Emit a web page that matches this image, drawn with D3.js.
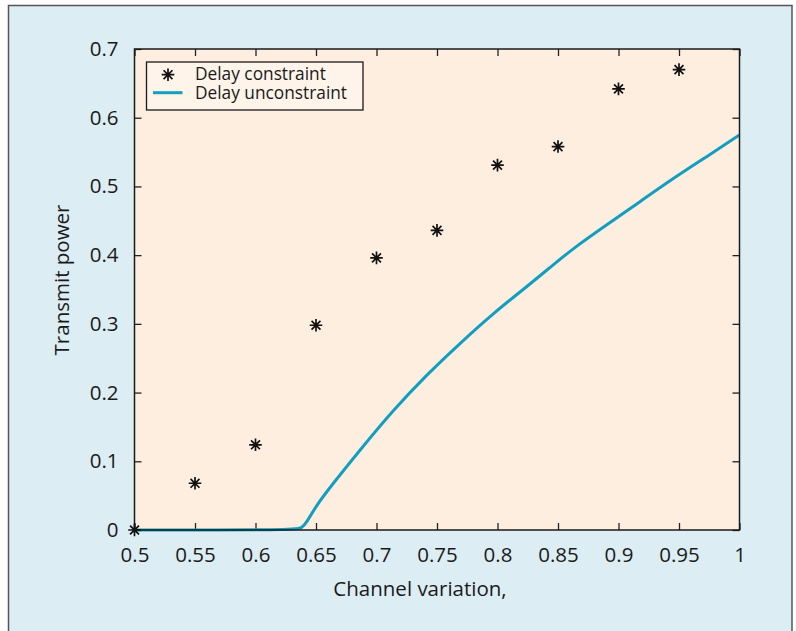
<!DOCTYPE html>
<html>
<head>
<meta charset="utf-8">
<script src="https://cdn.jsdelivr.net/npm/d3@7"></script>
<style>
  html, body { margin: 0; padding: 0; background: #fff; }
  svg { display: block; font-family: "Open Sans", "Noto Sans", sans-serif; }
</style>
</head>
<body>
<div id="chart"></div>
<script>
// measured points (delay constraint)
const starX = [0.5, 0.55, 0.6, 0.65, 0.7, 0.75, 0.8, 0.85, 0.9, 0.95];
const starY = [0, 0.068, 0.124, 0.298, 0.396, 0.436, 0.531, 0.558, 0.642, 0.670];

// curve (delay unconstraint)
const curveX = [0.5, 0.634, 0.638, 0.642, 0.65, 0.662, 0.6863, 0.7139, 0.7415, 0.769, 0.7965, 0.8241, 0.8434, 0.8626, 0.890, 0.9178, 0.9453, 0.9729, 1.0];
const curveY = [0, 0, 0.003, 0.010, 0.035, 0.063, 0.1164, 0.1746, 0.226, 0.2717, 0.3154, 0.354, 0.382, 0.410, 0.4439, 0.4778, 0.5118, 0.5433, 0.5749];

const xTicks = [0.5, 0.55, 0.6, 0.65, 0.7, 0.75, 0.8, 0.85, 0.9, 0.95, 1];
const yTicks = [0, 0.1, 0.2, 0.3, 0.4, 0.5, 0.6, 0.7];
const seriesNames = ["Delay constraint", "Delay unconstraint"];

const W = 796, H = 631;
const plot = {left: 134.5, right: 739.5, top: 49, bottom: 530};

const svg = d3.select("#chart").append("svg")
  .attr("width", W).attr("height", H);

// outer panel
svg.append("rect")
  .attr("x", 8.5).attr("y", 5.5)
  .attr("width", 783.5).attr("height", H + 10)
  .attr("fill", "#ddedf4")
  .attr("stroke", "#555")
  .attr("stroke-width", 1.5);

const x = d3.scaleLinear().domain([0.5, 1]).range([plot.left, plot.right]);
const y = d3.scaleLinear().domain([0, 0.7]).range([plot.bottom, plot.top]);

// plot background
svg.append("rect")
  .attr("x", plot.left).attr("y", plot.top)
  .attr("width", plot.right - plot.left).attr("height", plot.bottom - plot.top)
  .attr("fill", "#fdeee0");

const fmt = d => String(d);

// axes, ticks pointing inward
const tickLen = 7;
const xAxisB = d3.axisBottom(x).tickValues(xTicks).tickSize(-tickLen).tickPadding(17).tickFormat(fmt);
const xAxisT = d3.axisTop(x).tickValues(xTicks).tickSize(-tickLen).tickFormat("");
const yAxisL = d3.axisLeft(y).tickValues(yTicks).tickSize(-tickLen).tickPadding(16).tickFormat(fmt);
const yAxisR = d3.axisRight(y).tickValues(yTicks).tickSize(-tickLen).tickFormat("");

function style(g) {
  g.attr("font-family", null).attr("font-size", null);
  g.select(".domain").remove();
  g.selectAll(".tick line").attr("stroke", "#222").attr("stroke-width", 1.3);
  g.selectAll(".tick text").attr("fill", "#1a1a1a").style("font-size", "20.5px");
}

svg.append("g").attr("transform", `translate(0,${plot.bottom})`).call(xAxisB).call(style);
svg.append("g").attr("transform", `translate(0,${plot.top})`).call(xAxisT).call(style);
svg.append("g").attr("transform", `translate(${plot.left},0)`).call(yAxisL).call(style);
svg.append("g").attr("transform", `translate(${plot.right},0)`).call(yAxisR).call(style);

// curve
const line = d3.line().x(d => x(d[0])).y(d => y(d[1])).curve(d3.curveBasis);
svg.append("path")
  .datum(curveX.map((v, i) => [v, curveY[i]]))
  .attr("fill", "none")
  .attr("stroke", "#139ec0")
  .attr("stroke-width", 3)
  .attr("d", line);

// plot frame
svg.append("rect")
  .attr("x", plot.left).attr("y", plot.top)
  .attr("width", plot.right - plot.left).attr("height", plot.bottom - plot.top)
  .attr("fill", "none")
  .attr("stroke", "#1a1a1a")
  .attr("stroke-width", 1.5);

// star marker
const r = 6.3, rd = r * Math.SQRT1_2;
const starPath = `M${-r},0L${r},0M0,${-r}L0,${r}M${-rd},${-rd}L${rd},${rd}M${-rd},${rd}L${rd},${-rd}`;

svg.append("g").selectAll("path")
  .data(starX.map((v, i) => [v, starY[i]]))
  .join("path")
  .attr("transform", d => `translate(${x(d[0])},${y(d[1])})`)
  .attr("d", starPath)
  .attr("stroke", "#111")
  .attr("stroke-width", 1.7)
  .attr("fill", "none");

// legend
const lg = svg.append("g").attr("transform", "translate(146.5,62)");
lg.append("rect")
  .attr("width", 216.5).attr("height", 48)
  .attr("fill", "#fef4e9")
  .attr("stroke", "#1a1a1a")
  .attr("stroke-width", 1.3);
lg.append("path")
  .attr("transform", "translate(21.5,12.7)")
  .attr("d", starPath)
  .attr("stroke", "#111").attr("stroke-width", 1.7);
lg.append("line")
  .attr("x1", 6.5).attr("x2", 36).attr("y1", 30.7).attr("y2", 30.7)
  .attr("stroke", "#139ec0").attr("stroke-width", 3);
lg.selectAll("text").data(seriesNames).join("text")
  .attr("x", 48.5)
  .attr("y", (d, i) => 18 + i * 18.7)
  .attr("fill", "#1a1a1a")
  .style("font-size", "17.3px")
  .text(d => d);

// axis titles
svg.append("text")
  .attr("x", 420).attr("y", 596)
  .attr("text-anchor", "middle")
  .attr("fill", "#1a1a1a")
  .style("font-size", "20.5px")
  .text("Channel variation,");

svg.append("text")
  .attr("transform", "translate(69,280) rotate(-90)")
  .attr("text-anchor", "middle")
  .attr("fill", "#1a1a1a")
  .style("font-size", "20.5px")
  .text("Transmit power");
</script>
</body>
</html>
